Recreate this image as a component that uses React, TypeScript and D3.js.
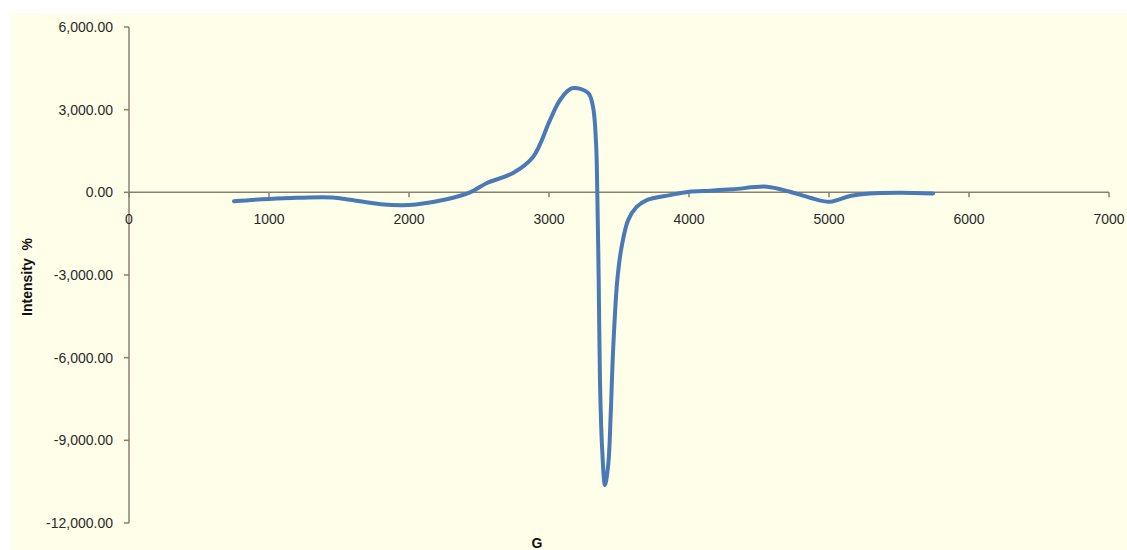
import React from "react";
import * as d3 from "d3";

const gField = [750, 1000, 1200, 1450, 1580, 1800, 1950, 2050, 2270, 2436, 2557, 2743, 2886, 3007, 3079, 3164, 3279, 3314, 3336, 3345, 3355, 3364, 3379, 3400, 3424, 3441, 3459, 3488, 3519, 3566, 3626, 3698, 3864, 4000, 4150, 4314, 4555, 4721, 4864, 5007, 5150, 5293, 5507, 5743];
const intensity = [-320, -240, -200, -190, -270, -430, -470, -440, -250, 0, 340, 700, 1280, 2620, 3350, 3775, 3610, 3110, 1790, 0, -3180, -6800, -9240, -10625, -9830, -8010, -5610, -3180, -1970, -1000, -530, -280, -100, 20, 60, 110, 205, 20, -195, -340, -135, -40, -15, -40];
const xTicks = [0, 1000, 2000, 3000, 4000, 5000, 6000, 7000];
const yTicks = [6000, 3000, 0, -3000, -6000, -9000, -12000];
const xTitle = "G";
const yTitle = "Intensity  %";

export default function App() {
  const W = 1127, H = 550;
  const x = d3.scaleLinear().domain([0, 7000]).range([129, 1109]);
  const y = d3.scaleLinear().domain([-12000, 6000]).range([523, 27]);
  const pts: [number, number][] = gField.map((g, i) => [g, intensity[i]]);
  const line = d3.line<[number, number]>()
    .x(d => x(d[0]))
    .y(d => y(d[1]))
    .curve(d3.curveCatmullRom.alpha(0.5));
  const f = d3.format(",.2f");
  const fmt = (v: number) => f(v).replace("\u2212", "-");
  const axisColor = "#8a7f70";
  const font = "'Liberation Sans', Arial, sans-serif";
  return (
    <svg width={W} height={H} style={{ position: "absolute", left: 0, top: 0, background: "#fff" }}>
      <rect x={10} y={13} width={W - 10} height={H - 13} fill="#fefee9" />
      <line x1={x(0)} x2={x(0)} y1={y(6000)} y2={y(-12000)} stroke={axisColor} strokeWidth={1.5} />
      {yTicks.map(t => (
        <g key={"y" + t}>
          <line x1={x(0) - 5} x2={x(0)} y1={y(t)} y2={y(t)} stroke={axisColor} strokeWidth={1.5} />
          <text x={113} y={y(t)} dy="0.35em" textAnchor="end" fontFamily={font} fontSize={14} fill="#2a2a2a">{fmt(t)}</text>
        </g>
      ))}
      <line x1={x(0)} x2={x(7000)} y1={y(0)} y2={y(0)} stroke={axisColor} strokeWidth={1.5} />
      {xTicks.map(t => (
        <g key={"x" + t}>
          <line x1={x(t)} x2={x(t)} y1={y(0)} y2={y(0) + 5} stroke={axisColor} strokeWidth={1.5} />
          <text x={x(t)} y={y(0) + 32} textAnchor="middle" fontFamily={font} fontSize={14} fill="#2a2a2a">{t}</text>
        </g>
      ))}
      <path d={line(pts) || ""} fill="none" stroke="#4a7ab5" strokeWidth={4} strokeLinejoin="round" strokeLinecap="round" />
      <text x={537} y={548} textAnchor="middle" fontFamily={font} fontSize={14} fontWeight="bold" fill="#111">{xTitle}</text>
      <text transform="translate(32,277) rotate(-90)" textAnchor="middle" fontFamily={font} fontSize={14} fontWeight="bold" fill="#111" style={{ whiteSpace: "pre" }}>{yTitle}</text>
    </svg>
  );
}
